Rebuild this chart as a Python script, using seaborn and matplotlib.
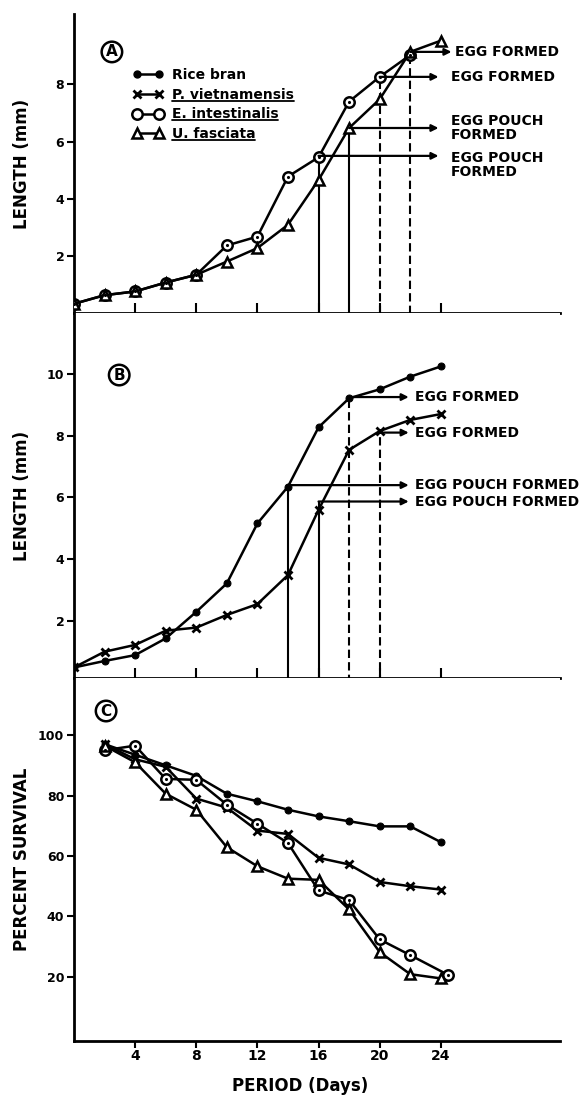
import numpy as np
import pandas as pd
import matplotlib
matplotlib.use("Agg")
import matplotlib.pyplot as plt
import matplotlib.transforms as mtransforms
from matplotlib.lines import Line2D
import seaborn as sns

# ---- data ----
days_a = [0, 2, 4, 6, 8, 10, 12, 14, 16, 18, 20, 22, 24]
ent_len_a = [0.35, 0.65, 0.78, 1.09, 1.36, 2.38, 2.69, 4.78, 5.45, 7.39, 8.25, 9.01]
ulva_len_a = [0.35, 0.65, 0.78, 1.09, 1.36, 1.82, 2.29, 3.10, 4.66, 6.47, 7.47, 9.12, 9.51]

days_b = [0, 2, 4, 6, 8, 10, 12, 14, 16, 18, 20, 22, 24]
rice_len_b = [0.5, 0.71, 0.9, 1.44, 2.3, 3.22, 5.16, 6.35, 8.27, 9.21, 9.5, 9.91, 10.24]
pviet_len_b = [0.5, 1.01, 1.23, 1.69, 1.79, 2.2, 2.55, 3.49, 5.6, 7.54, 8.15, 8.51, 8.7]

days_c = [2, 4, 6, 8, 10, 12, 14, 16, 18, 20, 22, 24]
days_c_ent = [2, 4, 6, 8, 10, 12, 14, 16, 18, 20, 22, 24.5]
rice_surv = [97, 93.5, 90, 86.5, 80.6, 78.1, 75.3, 73.1, 71.5, 69.8, 69.8, 64.6]
pviet_surv = [97, 92, 89.5, 79, 76, 68.4, 67.3, 59.4, 57.2, 51.4, 50.0, 48.9]
ent_surv = [95, 96.5, 85.5, 85.2, 77.0, 70.7, 64.3, 48.6, 45.4, 32.4, 27.2, 20.6]
ulva_surv = [96.5, 91, 80.6, 75.3, 62.9, 56.6, 52.5, 52.1, 42.3, 28.2, 20.9, 19.5]

# maturity events: day, length, label
a_ev_day = [16, 18, 20, 22]
a_ev_len = [5.5, 6.47, 8.25, 9.12]
a_ev_txt = ["EGG POUCH\nFORMED", "EGG POUCH\nFORMED", "EGG FORMED", "EGG FORMED"]
b_ev_day = [14, 16, 18, 20]
b_ev_len = [6.4, 5.87, 9.25, 8.1]
b_ev_txt = ["EGG POUCH FORMED", "EGG POUCH FORMED", "EGG FORMED", "EGG FORMED"]

series_names = ["Rice bran", "P. vietnamensis", "E. intestinalis", "U. fasciata"]

sns.set_theme(style="white")
K = "black"
plt.rcParams["font.family"] = ["DejaVu Sans"]
plt.rcParams["font.weight"] = "bold"
plt.rcParams["text.color"] = K
plt.rcParams["axes.labelcolor"] = K
plt.rcParams["xtick.color"] = K
plt.rcParams["ytick.color"] = K

fig = plt.figure(figsize=(5.82, 10.99), dpi=100)
L, W = 74 / 582, 486 / 582
axA = fig.add_axes([L, 0.7152, W, 0.2721])
axB = fig.add_axes([L, 0.3831, W, 0.3321])
axC = fig.add_axes([L, 0.0528, W, 0.3303])

sty = {
    "Rice bran": dict(marker="o", ms=5, mfc=K, mec=K),
    "P. vietnamensis": dict(marker="x", ms=6, mew=2, mec=K),
    "E. intestinalis": dict(marker="o", ms=7.5, mfc="white", mec=K, mew=1.8),
    "U. fasciata": dict(marker="^", ms=7, mfc="white", mec=K, mew=1.8),
}


def draw(ax, x, y, name):
    sns.lineplot(x=x, y=y, ax=ax, color=K, lw=1.8, zorder=3, **sty[name])
    if name == "E. intestinalis":
        sns.scatterplot(x=x, y=y, ax=ax, color=K, s=5, zorder=4, linewidth=0)


draw(axA, days_a[:len(ent_len_a)], ent_len_a, "E. intestinalis")
draw(axA, days_a, ulva_len_a, "U. fasciata")
draw(axB, days_b, rice_len_b, "Rice bran")
draw(axB, days_b, pviet_len_b, "P. vietnamensis")
draw(axC, days_c, rice_surv, "Rice bran")
draw(axC, days_c, pviet_surv, "P. vietnamensis")
draw(axC, days_c_ent, ent_surv, "E. intestinalis")
draw(axC, days_c, ulva_surv, "U. fasciata")

axA.set_ylim(0.03, 10.44)
axB.set_ylim(0.16, 11.97)
axC.set_ylim(-1.2, 118.9)
for ax in (axA, axB, axC):
    ax.set_xlim(0, 31.8)
    for s in ("top", "right"):
        ax.spines[s].set_visible(False)
    for s in ("left", "bottom"):
        ax.spines[s].set_linewidth(2)
        ax.spines[s].set_color(K)
    ax.set_xticks([4, 8, 12, 16, 20, 24])
    ax.tick_params(axis="y", direction="out", length=5, width=1.5, pad=2,
                   labelsize=9, left=True, colors=K)
    ax.set_xlabel("")
    ax.set_ylabel("")

axA.set_yticks([2, 4, 6, 8])
axB.set_yticks([2, 4, 6, 8, 10])
axC.set_yticks([20, 40, 60, 80, 100])
for ax in (axA, axB):
    ax.tick_params(axis="x", direction="in", length=7, width=1.5,
                   bottom=True, labelbottom=False)
axC.tick_params(axis="x", direction="out", length=5, width=1.5, pad=1,
                bottom=True, labelsize=10, colors=K)

lab = dict(fontsize=12, fontweight="bold", color=K)
axA.set_ylabel("LENGTH (mm)", **lab)
axB.set_ylabel("LENGTH (mm)", **lab)
axC.set_ylabel("PERCENT SURVIVAL", **lab)
axC.set_xlabel("PERIOD (Days)", **lab)
for ax in (axA, axB, axC):
    ax.yaxis.set_label_coords(-0.0875, 0.5)
axC.xaxis.set_label_coords(0.465, -0.10)

# panel letters
circ = dict(boxstyle="circle,pad=0.18", fc="white", ec=K, lw=1.8)
for ax, letter, xy in ((axA, "A", (0.078, 0.873)),
                       (axB, "B", (0.093, 0.83)),
                       (axC, "C", (0.066, 0.909))):
    ax.text(*xy, letter, transform=ax.transAxes, ha="center", va="center",
            fontsize=11, fontweight="bold", bbox=circ, zorder=6)

arrow = dict(arrowstyle="-|>", color=K, lw=1.6, shrinkA=0, shrinkB=0,
             mutation_scale=10)
txt = dict(fontsize=10, fontweight="bold", color=K)

# panel A event markers
a_end = [23.85, 23.85, 23.85, 24.7]
for i, (d, v, t) in enumerate(zip(a_ev_day, a_ev_len, a_ev_txt)):
    ls = "-" if "POUCH" in t else (0, (4, 2))
    axA.plot([d, d], [0, v], color=K, lw=1.5, ls=ls, zorder=2)
    axA.annotate("", xy=(a_end[i], v), xytext=(d, v), arrowprops=arrow,
                 annotation_clip=False)
    if i == 0:
        axA.text(24.65, v + 0.18, t, ha="left", va="top", linespacing=1.05, **txt)
    elif i == 3:
        axA.text(24.9, v, t, ha="left", va="center", **txt)
    else:
        axA.text(24.65, v, t, ha="left", va="center", linespacing=1.05, **txt)

# panel B event markers
for d, v, t in zip(b_ev_day, b_ev_len, b_ev_txt):
    ls = "-" if "POUCH" in t else (0, (4, 2))
    axB.plot([d, d], [0, v], color=K, lw=1.5, ls=ls, zorder=2)
    axB.annotate("", xy=(21.9, v), xytext=(d, v), arrowprops=arrow,
                 annotation_clip=False)
    axB.text(22.3, v, t, ha="left", va="center", **txt)

# legend in panel A
handles = [Line2D([0], [0], color=K, lw=1.8, **sty[n]) for n in series_names]
leg = axA.legend(handles, series_names, loc="upper left",
                 bbox_to_anchor=(0.121, 0.82), frameon=False, numpoints=2,
                 handlelength=2.2, handletextpad=0.6, labelspacing=0.42,
                 borderpad=0, borderaxespad=0, labelcolor=K,
                 prop=dict(size=10, weight="bold"))

fig.canvas.draw()
rend = fig.canvas.get_renderer()
for t in leg.get_texts()[1:]:
    bb = t.get_window_extent(rend)
    fig.add_artist(Line2D([bb.x0, bb.x1], [bb.y0 + 1, bb.y0 + 1], color=K, lw=1.3,
                          transform=mtransforms.IdentityTransform()))

fig.savefig("out.png", dpi=100, facecolor="white")
